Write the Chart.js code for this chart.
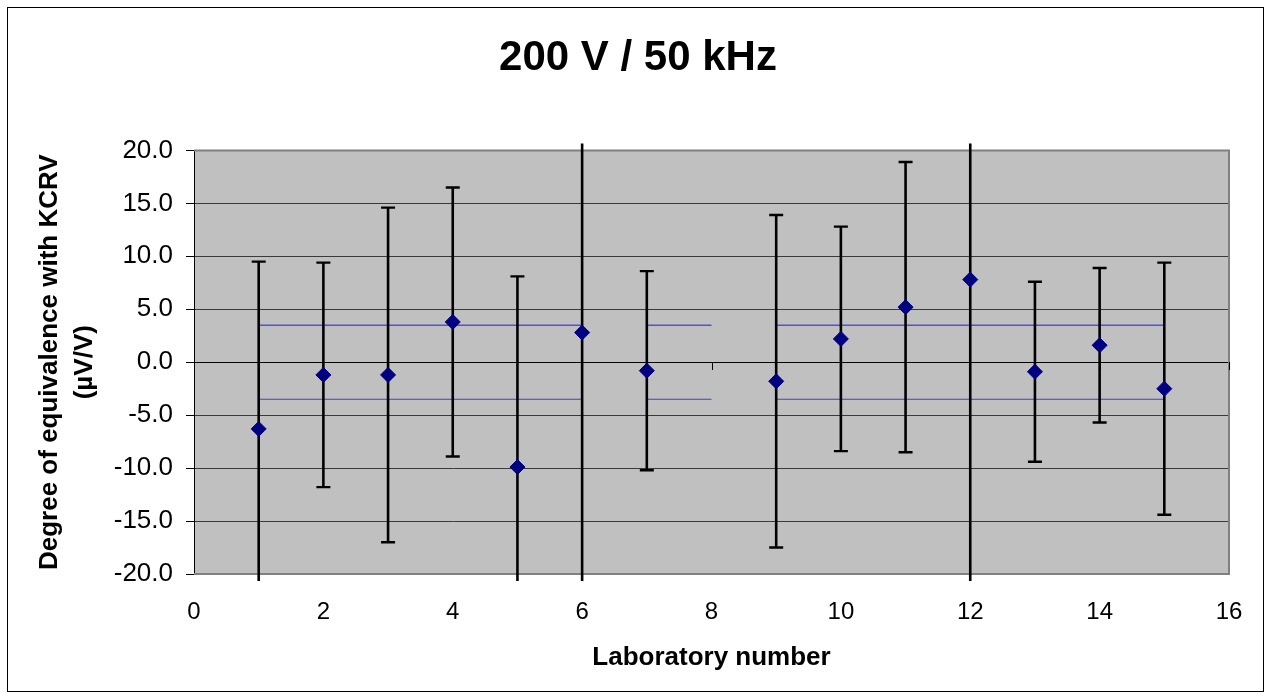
<!DOCTYPE html>
<html>
<head>
<meta charset="utf-8">
<script src="https://cdn.jsdelivr.net/npm/chart.js@4"></script>
<style>
html,body{margin:0;padding:0;background:#fff;}
#wrap{width:1271px;height:699px;position:relative;}
</style>
</head>
<body>
<div id="wrap"><canvas id="c" width="1271" height="699"></canvas></div>
<script>
// ---- data ----
const labs = [1, 2, 3, 4, 5, 6, 7, 9, 10, 11, 12, 13, 14, 15];
const degrees = [-6.3, -1.2, -1.2, 3.8, -9.9, 2.8, -0.8, -1.8, 2.2, 5.2, 7.8, -0.9, 1.6, -2.5];
const uncertainty = [15.8, 10.6, 15.8, 12.7, 18.0, 25.0, 9.4, 15.7, 10.6, 13.7, 30.0, 8.5, 7.3, 11.9];
const limitX = [1, 2, 3, 4, 5, 6, null, 7, 8, null, 9, 10, 11, 12, 13, 14, 15];
const limitUpper = 3.5;
const limitLower = -3.5;
const xRange = [0, 16];
const xStep = 2;
const yRange = [-20, 20];
const yStep = 5;
const titleText = '200 V / 50 kHz';
const xTitle = 'Laboratory number';
const yTitle = ['Degree of equivalence with KCRV', '(µV/V)'];

const FONT = "Arial, 'Liberation Sans', sans-serif";
Chart.defaults.font.family = FONT;
Chart.defaults.color = '#000';

const decor = {
  id: 'decor',
  beforeDraw(chart) {
    const {ctx, chartArea: a} = chart;
    ctx.save();
    ctx.fillStyle = '#fff';
    ctx.fillRect(0, 0, chart.width, chart.height);
    ctx.fillStyle = '#c0c0c0';
    ctx.fillRect(a.left, a.top, a.right - a.left, a.bottom - a.top);
    ctx.strokeStyle = '#000';
    ctx.lineWidth = 1;
    ctx.strokeRect(7.5, 7.5, chart.width - 15, chart.height - 15);
    ctx.restore();
  },
  beforeDatasetsDraw(chart) {
    const {ctx, chartArea: a, scales: {x, y}} = chart;
    ctx.save();
    ctx.strokeStyle = '#808080';
    ctx.lineWidth = 2;
    ctx.beginPath();
    ctx.moveTo(a.left, a.top);
    ctx.lineTo(a.right, a.top);
    ctx.lineTo(a.right, a.bottom);
    ctx.lineTo(a.left, a.bottom);
    ctx.stroke();
    // x-axis tick marks where the horizontal axis crosses at 0
    const y0 = Math.round(y.getPixelForValue(0));
    ctx.strokeStyle = '#000';
    ctx.lineWidth = 1;
    x.ticks.forEach(t => {
      const px = Math.round(x.getPixelForValue(t.value)) + 0.5;
      ctx.beginPath();
      ctx.moveTo(px, y0);
      ctx.lineTo(px, y0 + 8);
      ctx.stroke();
    });
    ctx.restore();
  },
  afterDatasetDraw(chart, args) {
    if (args.index !== 2) return;
    const {ctx, chartArea: a, scales: {x, y}} = chart;
    ctx.save();
    ctx.beginPath();
    ctx.rect(a.left, a.top - 7, a.right - a.left, a.bottom - a.top + 14);
    ctx.clip();
    ctx.strokeStyle = '#000';
    labs.forEach((lab, i) => {
      const px = x.getPixelForValue(lab);
      const top = y.getPixelForValue(degrees[i] + uncertainty[i]);
      const bot = y.getPixelForValue(degrees[i] - uncertainty[i]);
      ctx.lineWidth = 2.6;
      ctx.beginPath();
      ctx.moveTo(px, top);
      ctx.lineTo(px, bot);
      ctx.stroke();
      ctx.lineWidth = 2.4;
      ctx.beginPath();
      ctx.moveTo(px - 7, top);
      ctx.lineTo(px + 7, top);
      ctx.moveTo(px - 7, bot);
      ctx.lineTo(px + 7, bot);
      ctx.stroke();
    });
    ctx.restore();
  }
};

new Chart(document.getElementById('c'), {
  type: 'scatter',
  data: {
    datasets: [
      {
        label: 'Degree of equivalence',
        data: labs.map((l, i) => ({x: l, y: degrees[i]})),
        pointStyle: 'rectRot',
        pointRadius: 7.5,
        pointHoverRadius: 7.5,
        backgroundColor: '#000080',
        borderColor: '#000080',
        borderWidth: 1,
        showLine: false,
        order: 0
      },
      {
        type: 'line',
        label: 'Upper limit',
        data: limitX.map(v => ({x: v, y: v === null ? null : limitUpper})),
        borderColor: '#5050dc',
        borderWidth: 1.5,
        pointRadius: 0,
        spanGaps: false,
        fill: false,
        order: 2
      },
      {
        type: 'line',
        label: 'Lower limit',
        data: limitX.map(v => ({x: v, y: v === null ? null : limitLower})),
        borderColor: '#4040d0',
        borderWidth: 1.2,
        pointRadius: 0,
        spanGaps: false,
        fill: false,
        order: 1
      }
    ]
  },
  options: {
    responsive: false,
    animation: false,
    devicePixelRatio: 1,
    layout: {padding: {left: 13, right: 8, top: 8, bottom: 8}},
    plugins: {
      legend: {display: false},
      tooltip: {enabled: false},
      title: {
        display: true,
        text: titleText,
        color: '#000',
        font: {size: 42, weight: 'bold', family: FONT, lineHeight: 1.2},
        padding: {top: 25, bottom: 67}
      }
    },
    scales: {
      x: {
        type: 'linear',
        min: xRange[0],
        max: xRange[1],
        ticks: {stepSize: xStep, font: {size: 24, family: FONT}, color: '#000', padding: 24, maxRotation: 0},
        grid: {display: false, drawTicks: false},
        border: {display: false},
        title: {
          display: true,
          text: xTitle,
          color: '#000',
          font: {size: 26, weight: 'bold', family: FONT, lineHeight: 1.2},
          padding: {top: 0, bottom: 18}
        },
        afterFit(s) { s.height = 117; s.paddingRight = 42; }
      },
      y: {
        type: 'linear',
        min: yRange[0],
        max: yRange[1],
        ticks: {
          stepSize: yStep,
          font: {size: 26, family: FONT},
          color: '#000',
          padding: 13,
          callback: v => v.toFixed(1)
        },
        grid: {
          color: c => (c.tick && c.tick.value === 0) ? '#000' : '#3a3a3a',
          lineWidth: 1,
          tickLength: 8,
          tickColor: '#000',
          drawTicks: true
        },
        border: {display: true, color: '#000', width: 1},
        title: {
          display: true,
          text: yTitle,
          color: '#000',
          font: {size: 26, weight: 'bold', family: FONT, lineHeight: 1.32},
          padding: {top: 20, bottom: 0}
        },
        afterFit(s) { s.width = 181; }
      }
    }
  },
  plugins: [decor]
});
</script>
</body>
</html>
